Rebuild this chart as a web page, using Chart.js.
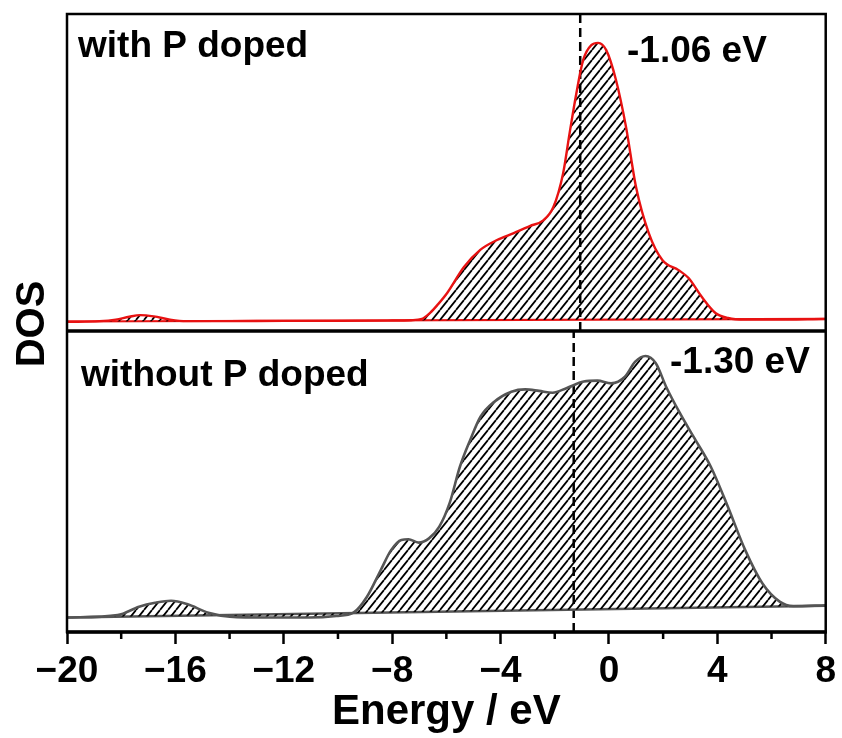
<!DOCTYPE html>
<html>
<head>
<meta charset="utf-8">
<script src="https://cdn.jsdelivr.net/npm/chart.js@4"></script>
<style>
  body { margin: 0; background: #fff; }
  #wrap { width: 842px; height: 738px; }
</style>
</head>
<body>
<div id="wrap"><canvas id="dosChart" width="842" height="738"></canvas></div>
<script>
// energy axis ticks (eV)
var xTicks = [-20, -16, -12, -8, -4, 0, 4, 8];
var minorTicks = [-18, -14, -10, -6, -2, 2, 6];

// with P doped (top panel)
var energyTop = [-20, -18.8, -18.2, -17.7, -17.3, -16.8, -16.2, -15.6, -14, -12, -10, -8, -7.3, -6.9, -6.6, -6.3, -5.97, -5.35, -4.75, -4.13, -3.51, -2.92, -2.41, -2.05, -1.69, -1.45, -1.2, -0.95, -0.65, -0.4, -0.1, 0.26, 0.63, 1.0, 1.47, 1.97, 2.57, 2.94, 3.43, 3.93, 4.4, 5.0, 6, 8];
var dosTop = [0.29, 0.31, 0.36, 0.45, 0.50, 0.46, 0.36, 0.31, 0.31, 0.32, 0.32, 0.33, 0.34, 0.38, 0.57, 0.85, 1.20, 2.02, 2.56, 2.87, 3.09, 3.31, 3.50, 3.91, 4.98, 6.25, 7.51, 8.55, 9.02, 9.09, 8.86, 7.92, 6.44, 4.54, 3.09, 2.24, 1.92, 1.67, 1.07, 0.57, 0.41, 0.36, 0.36, 0.38];

// without P doped (bottom panel)
var energyBot = [-20, -18.13, -17.34, -16.75, -16.16, -15.57, -14.78, -13.99, -12.62, -11.04, -10.06, -9.43, -8.93, -8.42, -8.04, -7.66, -7.4, -7.02, -6.64, -6.26, -5.88, -5.5, -5.12, -4.74, -4.23, -3.6, -3.09, -2.58, -2.08, -1.57, -0.93, -0.43, 0.08, 0.59, 0.97, 1.35, 1.73, 2.11, 2.62, 3.12, 3.76, 4.39, 5.03, 5.66, 6.3, 6.8, 8];
var dosBot = [0.48, 0.56, 0.84, 0.97, 1.04, 0.93, 0.64, 0.51, 0.48, 0.48, 0.53, 0.64, 1.17, 2.06, 2.72, 3.06, 3.08, 2.97, 3.11, 3.50, 4.28, 5.49, 6.38, 7.15, 7.65, 7.98, 8.06, 8.01, 7.95, 8.10, 8.32, 8.35, 8.26, 8.48, 8.98, 9.17, 8.93, 8.15, 7.27, 6.49, 5.49, 4.16, 2.72, 1.62, 1.01, 0.86, 0.89];

// straight baselines under the hatched areas
var baseEnergy = [-20, 8];
var baseTop = [0.30, 0.38];
var baseBot = [0.48, 0.87];

// d-band centres
var dBandTop = -1.06;
var dBandBot = -1.30;

function pts(xs, ys) {
    return xs.map(function (x, i) { return { x: x, y: ys[i] }; });
}

var canvas = document.getElementById('dosChart');
var ctx = canvas.getContext('2d');

// diagonal hatch, a bit steeper than 45 deg
var tw = 8, th = 10;
var tile = document.createElement('canvas');
tile.width = tw; tile.height = th;
var tg = tile.getContext('2d');
tg.strokeStyle = '#000';
tg.lineWidth = 1.8;
tg.beginPath();
tg.moveTo(0, th); tg.lineTo(tw, 0);
tg.moveTo(-tw, th); tg.lineTo(0, 0);
tg.moveTo(tw, th); tg.lineTo(2 * tw, 0);
tg.stroke();
var hatch = ctx.createPattern(tile, 'repeat');

var red = 'rgb(232, 18, 18)';
var grey = '#555555';
var FONT = '"Liberation Sans", Arial, sans-serif';

var decor = {
    id: 'decor',
    afterDraw: function (chart) {
        var c = chart.ctx, a = chart.chartArea;
        var x = chart.scales.x, yTop = chart.scales.yTop;
        c.save();
        c.strokeStyle = '#000';
        // frame
        c.lineWidth = 2.5;
        c.strokeRect(a.left, a.top, a.right - a.left, a.bottom - a.top);
        c.lineWidth = 3.5;
        c.beginPath();
        c.moveTo(a.left - 1, a.bottom); c.lineTo(a.right + 1, a.bottom);
        c.moveTo(a.left, yTop.bottom); c.lineTo(a.right, yTop.bottom);
        c.stroke();
        // minor ticks
        c.lineWidth = 2.5;
        c.beginPath();
        minorTicks.forEach(function (v) {
            var px = x.getPixelForValue(v);
            c.moveTo(px, a.bottom); c.lineTo(px, a.bottom + 7);
        });
        c.stroke();
        // labels
        c.fillStyle = '#000';
        c.font = 'bold 37px ' + FONT;
        c.textBaseline = 'alphabetic';
        c.textAlign = 'left';
        c.fillText('with P doped', 78, 57);
        c.fillText('without P doped', 81, 386);
        c.fillText('-1.06 eV', 627, 62);
        c.fillText('-1.30 eV', 670, 373);
        // y title
        c.font = 'bold 40px ' + FONT;
        c.translate(44, 324);
        c.rotate(-Math.PI / 2);
        c.textAlign = 'center';
        c.fillText('DOS', 0, 0);
        c.restore();
    }
};

var chart = new Chart(ctx, {
    type: 'line',
    data: {
        datasets: [{
            label: 'with P doped',
            data: pts(energyTop, dosTop),
            yAxisID: 'yTop',
            borderColor: red,
            borderWidth: 2.4,
            backgroundColor: hatch,
            fill: '+1',
            pointRadius: 0,
            cubicInterpolationMode: 'monotone'
        }, {
            label: 'base top',
            data: pts(baseEnergy, baseTop),
            yAxisID: 'yTop',
            borderColor: red,
            borderWidth: 2.2,
            fill: false,
            pointRadius: 0
        }, {
            label: 'without P doped',
            data: pts(energyBot, dosBot),
            yAxisID: 'yBot',
            borderColor: grey,
            borderWidth: 2.6,
            backgroundColor: hatch,
            fill: '+1',
            pointRadius: 0,
            cubicInterpolationMode: 'monotone'
        }, {
            label: 'base bottom',
            data: pts(baseEnergy, baseBot),
            yAxisID: 'yBot',
            borderColor: grey,
            borderWidth: 2.6,
            fill: false,
            pointRadius: 0
        }, {
            label: 'd-band top',
            data: [{ x: dBandTop, y: 0 }, { x: dBandTop, y: 10 }],
            yAxisID: 'yTop',
            borderColor: '#000',
            borderWidth: 2.5,
            borderDash: [9, 5],
            fill: false,
            pointRadius: 0
        }, {
            label: 'd-band bottom',
            data: [{ x: dBandBot, y: 0 }, { x: dBandBot, y: 10 }],
            yAxisID: 'yBot',
            borderColor: '#000',
            borderWidth: 2.5,
            borderDash: [9, 5],
            fill: false,
            pointRadius: 0
        }]
    },
    options: {
        responsive: false,
        animation: false,
        layout: { padding: { left: 67, right: 11, top: 14, bottom: 0 } },
        plugins: {
            legend: { display: false },
            tooltip: { enabled: false }
        },
        scales: {
            x: {
                type: 'linear',
                min: -20,
                max: 8,
                afterBuildTicks: function (s) {
                    s.ticks = xTicks.map(function (v) { return { value: v }; });
                },
                afterFit: function (s) { s.height = 106; },
                ticks: {
                    color: '#000',
                    padding: 6,
                    font: { family: FONT, size: 37, weight: 'bold' },
                    callback: function (v) { return v < 0 ? '\u2212' + Math.abs(v) : String(v); }
                },
                grid: {
                    display: true,
                    drawOnChartArea: false,
                    tickLength: 12,
                    tickWidth: 2.5,
                    tickColor: '#000'
                },
                border: { display: false },
                title: {
                    display: true,
                    text: 'Energy / eV',
                    color: '#000',
                    font: { family: FONT, size: 42, weight: 'bold' },
                    padding: { top: 0, bottom: 0 }
                }
            },
            yBot: {
                type: 'linear',
                position: 'left',
                stack: 'dos',
                stackWeight: 301,
                min: 0,
                max: 10,
                afterFit: function (s) { s.width = 0; },
                ticks: { display: false },
                grid: { display: false },
                border: { display: false }
            },
            yTop: {
                type: 'linear',
                position: 'left',
                stack: 'dos',
                stackWeight: 317,
                min: 0,
                max: 10,
                afterFit: function (s) { s.width = 0; },
                ticks: { display: false },
                grid: { display: false },
                border: { display: false }
            }
        }
    },
    plugins: [decor]
});
</script>
</body>
</html>
